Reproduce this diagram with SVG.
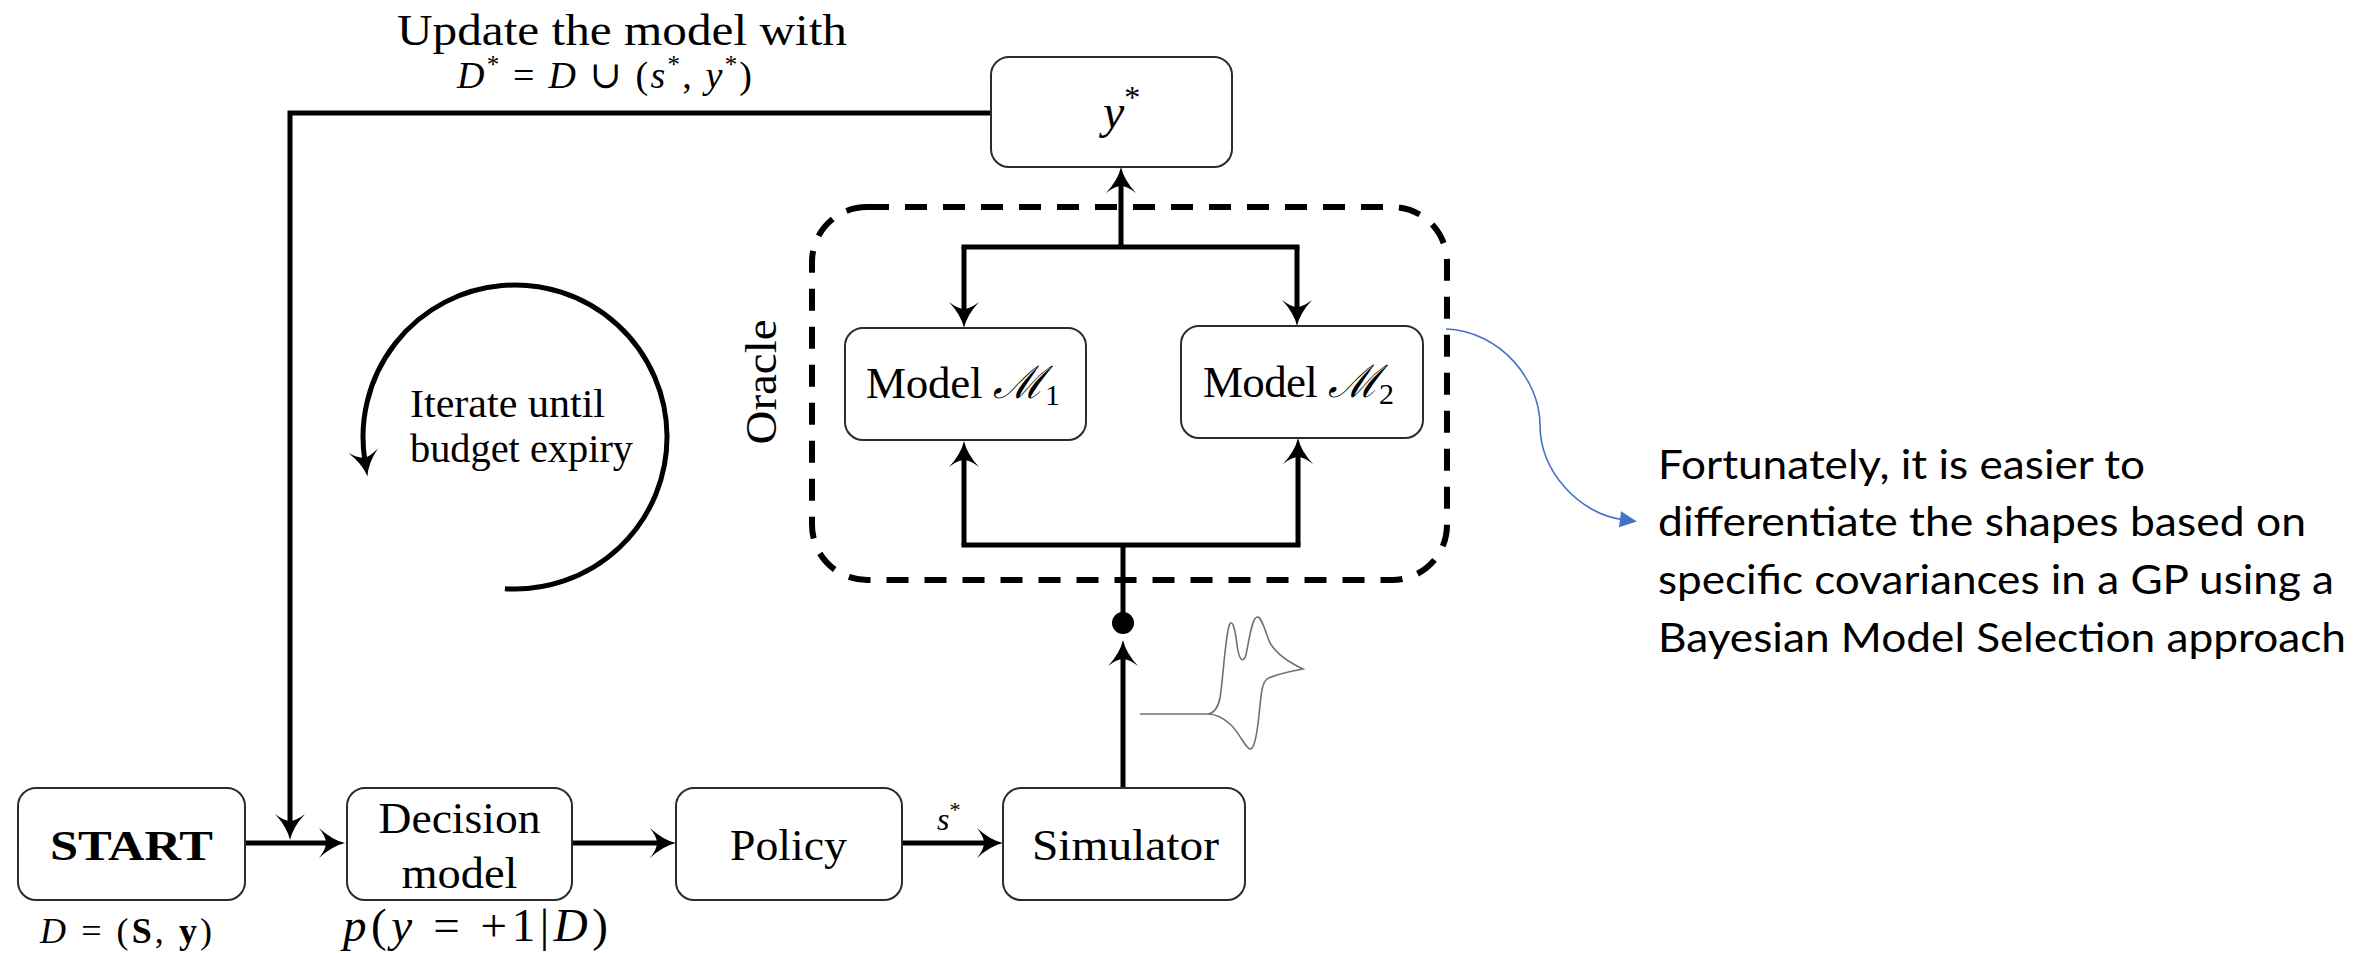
<svg xmlns="http://www.w3.org/2000/svg" width="2354" height="953" viewBox="0 0 2354 953">
  <style>
    .box { fill: #ffffff; stroke: #2b2b2b; stroke-width: 2; }
    .wire { fill: none; stroke: #000000; stroke-width: 5; stroke-linejoin: miter; }
    .arrow { marker-end: url(#head); }
    .lbl { font-family: "Liberation Serif", "DejaVu Serif", serif; fill: #000000; }
    .mid { text-anchor: middle; }
    .it { font-style: italic; }
    .note { font-family: Lato, "Liberation Sans", sans-serif; font-size: 40px; fill: #000000; }
  </style>
  <defs>
    <!-- concave-backed arrowhead; path end sits 15px behind the tip -->
    <marker id="head" markerUnits="userSpaceOnUse" orient="auto" overflow="visible" markerWidth="30" markerHeight="30" refX="0" refY="0">
      <path d="M15,0 Q2,3 -11,15 Q-4,6 -4,0 Q-4,-6 -11,-15 Q2,-3 15,0 Z" fill="#000000"/>
    </marker>
    <marker id="bluehead" markerUnits="userSpaceOnUse" orient="auto" overflow="visible" markerWidth="20" markerHeight="20" refX="0" refY="0">
      <path d="M-2,-8 L15,0 L-2,8 Z" fill="#4472C4"/>
    </marker>
  </defs>

  <rect width="2354" height="953" fill="#ffffff"/>

  <!-- connectors -->
  <g id="connectors">
    <!-- feedback loop from y* back to the decision model input -->
    <path class="wire arrow" d="M991,113 L290,113 L290,825"/>
    <!-- main pipeline -->
    <path class="wire arrow" d="M245,843 L330,843"/>
    <path class="wire arrow" d="M572,843 L661,843"/>
    <path class="wire arrow" d="M902,843 L988,843"/>
    <!-- simulator output up into the oracle -->
    <path class="wire arrow" d="M1123,788 L1123,655"/>
    <circle cx="1123" cy="623" r="11" fill="#000000"/>
    <path class="wire" d="M1123,623 L1123,545"/>
    <path class="wire" d="M961.5,545 L1300.5,545"/>
    <path class="wire arrow" d="M964,545 L964,456"/>
    <path class="wire arrow" d="M1298,545 L1298,453"/>
    <!-- oracle outputs merged to y* -->
    <path class="wire" d="M961.5,247 L1299.5,247"/>
    <path class="wire arrow" d="M964,247 L964,313"/>
    <path class="wire arrow" d="M1297,247 L1297,311"/>
    <path class="wire arrow" d="M1121,247 L1121,182"/>
    <!-- annotation pointer -->
    <path d="M1446,329 C1500,331 1540,380 1540,425 C1540,472 1580,514 1622,519.5" fill="none" stroke="#4472C4" stroke-width="1.6" marker-end="url(#bluehead)"/>
  </g>

  <!-- iteration loop symbol -->
  <g id="iterate">
    <path class="wire arrow" d="M504.9,588.7 A152,152 0 1 0 365.0,461.5"/>
    <text class="lbl" x="410" y="417" font-size="41" textLength="195" lengthAdjust="spacingAndGlyphs">Iterate until</text>
    <text class="lbl" x="410" y="462" font-size="41" textLength="223" lengthAdjust="spacingAndGlyphs">budget expiry</text>
  </g>

  <!-- update label -->
  <g id="update-label">
    <text class="lbl" x="397" y="45" font-size="44" textLength="450" lengthAdjust="spacingAndGlyphs">Update the model with</text>
    <text class="lbl" x="457" y="88" font-size="38" textLength="295" lengthAdjust="spacing"><tspan class="it">D</tspan><tspan font-size="25" dy="-15">*</tspan><tspan dy="15"> = </tspan><tspan class="it">D</tspan><tspan> ∪ (</tspan><tspan class="it">s</tspan><tspan font-size="25" dy="-15">*</tspan><tspan dy="15">, </tspan><tspan class="it">y</tspan><tspan font-size="25" dy="-15">*</tspan><tspan dy="15">)</tspan></text>
  </g>

  <!-- oracle container -->
  <g id="oracle">
    <rect x="812" y="207" width="635" height="373" rx="55" ry="55" fill="none" stroke="#000000" stroke-width="6" stroke-dasharray="22 16"/>
    <text class="lbl mid" transform="translate(776,382) rotate(-90)" font-size="44" textLength="125" lengthAdjust="spacingAndGlyphs">Oracle</text>
  </g>

  <g id="y-star">
    <rect class="box" x="991" y="57" width="241" height="110" rx="18"/>
    <text class="lbl" x="1103" y="128" font-size="48"><tspan class="it">y</tspan><tspan font-size="32" dy="-20">*</tspan></text>
  </g>

  <g id="model-1">
    <rect class="box" x="845" y="328" width="241" height="112" rx="18"/>
    <text class="lbl" x="866" y="398" font-size="45" textLength="194" lengthAdjust="spacing">Model <tspan class="it">ℳ</tspan><tspan font-size="30" dy="7">1</tspan></text>
  </g>

  <g id="model-2">
    <rect class="box" x="1181" y="326" width="242" height="112" rx="18"/>
    <text class="lbl" x="1203" y="397" font-size="45" textLength="191" lengthAdjust="spacing">Model <tspan class="it">ℳ</tspan><tspan font-size="30" dy="7">2</tspan></text>
  </g>

  <g id="start">
    <rect class="box" x="18" y="788" width="227" height="112" rx="18"/>
    <text class="lbl mid" x="131.5" y="860" font-size="42" font-weight="bold" textLength="163" lengthAdjust="spacingAndGlyphs">START</text>
    <text class="lbl" x="40" y="943" font-size="36" textLength="172" lengthAdjust="spacing"><tspan class="it">D</tspan> = (<tspan font-weight="bold">S</tspan>, <tspan font-weight="bold">y</tspan>)</text>
  </g>

  <g id="decision-model">
    <rect class="box" x="347" y="788" width="225" height="112" rx="18"/>
    <text class="lbl mid" x="459.5" y="833" font-size="45" textLength="162" lengthAdjust="spacingAndGlyphs">Decision</text>
    <text class="lbl mid" x="459.5" y="888" font-size="45" textLength="116" lengthAdjust="spacingAndGlyphs">model</text>
    <text class="lbl" x="343" y="941" font-size="47" textLength="265" lengthAdjust="spacing"><tspan class="it">p</tspan>(<tspan class="it">y</tspan> = +1|<tspan class="it">D</tspan>)</text>
  </g>

  <g id="policy">
    <rect class="box" x="676" y="788" width="226" height="112" rx="18"/>
    <text class="lbl mid" x="788.5" y="860" font-size="45" textLength="117" lengthAdjust="spacingAndGlyphs">Policy</text>
    <text class="lbl" x="937" y="830" font-size="32"><tspan class="it">s</tspan><tspan font-size="22" dy="-13">*</tspan></text>
  </g>

  <g id="simulator">
    <rect class="box" x="1003" y="788" width="242" height="112" rx="18"/>
    <text class="lbl mid" x="1125.5" y="860" font-size="45" textLength="187" lengthAdjust="spacingAndGlyphs">Simulator</text>
    <!-- cyclic voltammogram sketch -->
    <path d="M1140,714 L1208,714 C1214,713 1218,708 1220,698 C1223,680 1225,640 1229,626 C1232,617 1235,628 1237,645 C1239,660 1243,664 1246,655 C1249,640 1252,618 1257,617 C1262,616 1265,632 1270,643 C1277,655 1290,663 1303,669 C1292,671 1276,674 1267,679 C1261,684 1261,698 1259,715 C1257,735 1254,750 1250,749 C1245,748 1240,733 1230,724 C1222,717 1215,714 1208,714" fill="none" stroke="#707070" stroke-width="1.6"/>
  </g>

  <g id="note">
    <text class="note" x="1658" y="479" textLength="487" lengthAdjust="spacingAndGlyphs">Fortunately, it is easier to</text>
    <text class="note" x="1658" y="536" textLength="648" lengthAdjust="spacingAndGlyphs">differentiate the shapes based on</text>
    <text class="note" x="1658" y="594" textLength="676" lengthAdjust="spacingAndGlyphs">specific covariances in a GP using a</text>
    <text class="note" x="1658" y="652" textLength="688" lengthAdjust="spacingAndGlyphs">Bayesian Model Selection approach</text>
  </g>
</svg>
